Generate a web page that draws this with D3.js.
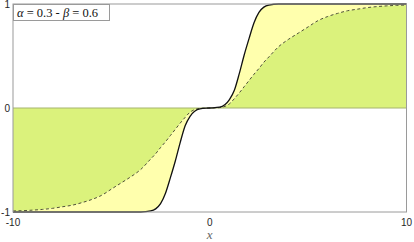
<!DOCTYPE html>
<html>
<head>
<meta charset="utf-8">
<script src="https://cdn.jsdelivr.net/npm/d3@7"></script>
<style>
body{margin:0;background:#fff}
svg{display:block}
</style>
</head>
<body>
<div id="chart"></div>
<script>
// values (odd curves, right half given)
var xs      = [0, 0.5, 1, 1.25, 1.5, 1.75, 2, 2.25, 2.5, 2.75, 3, 3.5, 4, 4.5, 5, 5.5, 6, 6.5, 7, 7.5, 8, 8.5, 9, 9.5, 10]
var solid   = [0, 0.008, 0.08, 0.17, 0.33, 0.51, 0.67, 0.82, 0.92, 0.97, 0.99, 1, 1, 1, 1, 1, 1, 1, 1, 1, 1, 1, 1, 1, 1]
var dashed  = [0, 0.004, 0.04, 0.09, 0.145, 0.205, 0.265, 0.325, 0.38, 0.44, 0.49, 0.59, 0.66, 0.72, 0.78, 0.84, 0.88, 0.91, 0.935, 0.95, 0.965, 0.975, 0.982, 0.987, 0.99]
var xTicks = [-10, 0, 10]
var yTicks = [-1, 0, 1]

// mirror to full range
var data = []
for(var i=xs.length-1;i>0;i--){
	data.push({x:-xs[i], s:-solid[i], d:-dashed[i]})
}
for(var i=0;i<xs.length;i++){
	data.push({x:xs[i], s:solid[i], d:dashed[i]})
}

var W = 414, H = 242
var margin = {top: 4, right: 7.5, bottom: 30, left: 13}

var svg = d3.select("#chart").append("svg")
	.attr("width", W)
	.attr("height", H)

var x = d3.scaleLinear().domain([-10,10]).range([margin.left, W - margin.right])
var y = d3.scaleLinear().domain([-1,1]).range([H - margin.bottom, margin.top])

var green = "#dbf27c"
var yellow = "#ffffad"

// yellow between dashed and solid
svg.append("path")
	.datum(data)
	.attr("fill", yellow)
	.attr("d", d3.area().curve(d3.curveMonotoneX)
		.x(function(d){return x(d.x)})
		.y0(function(d){return y(d.d)})
		.y1(function(d){return y(d.s)}))

// green between zero and dashed
svg.append("path")
	.datum(data)
	.attr("fill", green)
	.attr("d", d3.area().curve(d3.curveMonotoneX)
		.x(function(d){return x(d.x)})
		.y0(y(0))
		.y1(function(d){return y(d.d)}))

// zero line
svg.append("line")
	.attr("x1", x(-10)).attr("x2", x(10))
	.attr("y1", y(0)).attr("y2", y(0))
	.attr("stroke", "#a6b46e")
	.attr("stroke-width", 1)

// dashed curve
svg.append("path")
	.datum(data)
	.attr("fill", "none")
	.attr("stroke", "#4f5035")
	.attr("stroke-width", 1)
	.attr("stroke-dasharray", "3,2.5")
	.attr("d", d3.line().curve(d3.curveMonotoneX)
		.x(function(d){return x(d.x)})
		.y(function(d){return y(d.d)}))

// solid curve
svg.append("path")
	.datum(data)
	.attr("fill", "none")
	.attr("stroke", "#111")
	.attr("stroke-width", 1.3)
	.attr("d", d3.line().curve(d3.curveMonotoneX)
		.x(function(d){return x(d.x)})
		.y(function(d){return y(d.s)}))

// frame
svg.append("rect")
	.attr("x", x(-10)).attr("y", y(1))
	.attr("width", x(10) - x(-10))
	.attr("height", y(-1) - y(1))
	.attr("fill", "none")
	.attr("stroke", "#9a9a9a")
	.attr("stroke-width", 1)

// ticks
svg.selectAll(".ytick")
	.data(yTicks)
	.enter()
	.append("text")
	.attr("class", "ytick")
	.text(function(d){return d})
	.attr("x", x(-10) - 3)
	.attr("y", function(d){return y(d)})
	.attr("dy", "0.35em")
	.attr("text-anchor", "end")
	.style("font-family", "'Liberation Sans', Arial, sans-serif")
	.style("font-size", "10px")
	.attr("fill", "#262626")

svg.selectAll(".xtick")
	.data(xTicks)
	.enter()
	.append("text")
	.attr("class", "xtick")
	.text(function(d){return d})
	.attr("x", function(d){return x(d)})
	.attr("y", y(-1) + 14)
	.attr("text-anchor", "middle")
	.style("font-family", "'Liberation Sans', Arial, sans-serif")
	.style("font-size", "10px")
	.attr("fill", "#262626")

svg.append("text")
	.text("x")
	.attr("x", x(0))
	.attr("y", y(-1) + 27)
	.attr("text-anchor", "middle")
	.style("font-family", "'Liberation Serif', serif")
	.style("font-style", "italic")
	.style("font-size", "13px")
	.attr("fill", "#666")

// legend
svg.append("rect")
	.attr("x", x(-10) + 0.5).attr("y", y(1) + 0.5)
	.attr("width", 96).attr("height", 16)
	.attr("fill", "#fff")
	.attr("stroke", "#9a9a9a")
	.attr("stroke-width", 1)

var lg = svg.append("text")
	.attr("x", x(-10) + 4)
	.attr("y", y(1) + 12.5)
	.style("font-family", "'Liberation Serif', 'DejaVu Serif', serif")
	.style("font-size", "12.5px")
	.attr("fill", "#111")
lg.append("tspan").text("α").style("font-style", "italic")
lg.append("tspan").text(" = 0.3 - ")
lg.append("tspan").text("β").style("font-style", "italic")
lg.append("tspan").text(" = 0.6")
</script>
</body>
</html>
